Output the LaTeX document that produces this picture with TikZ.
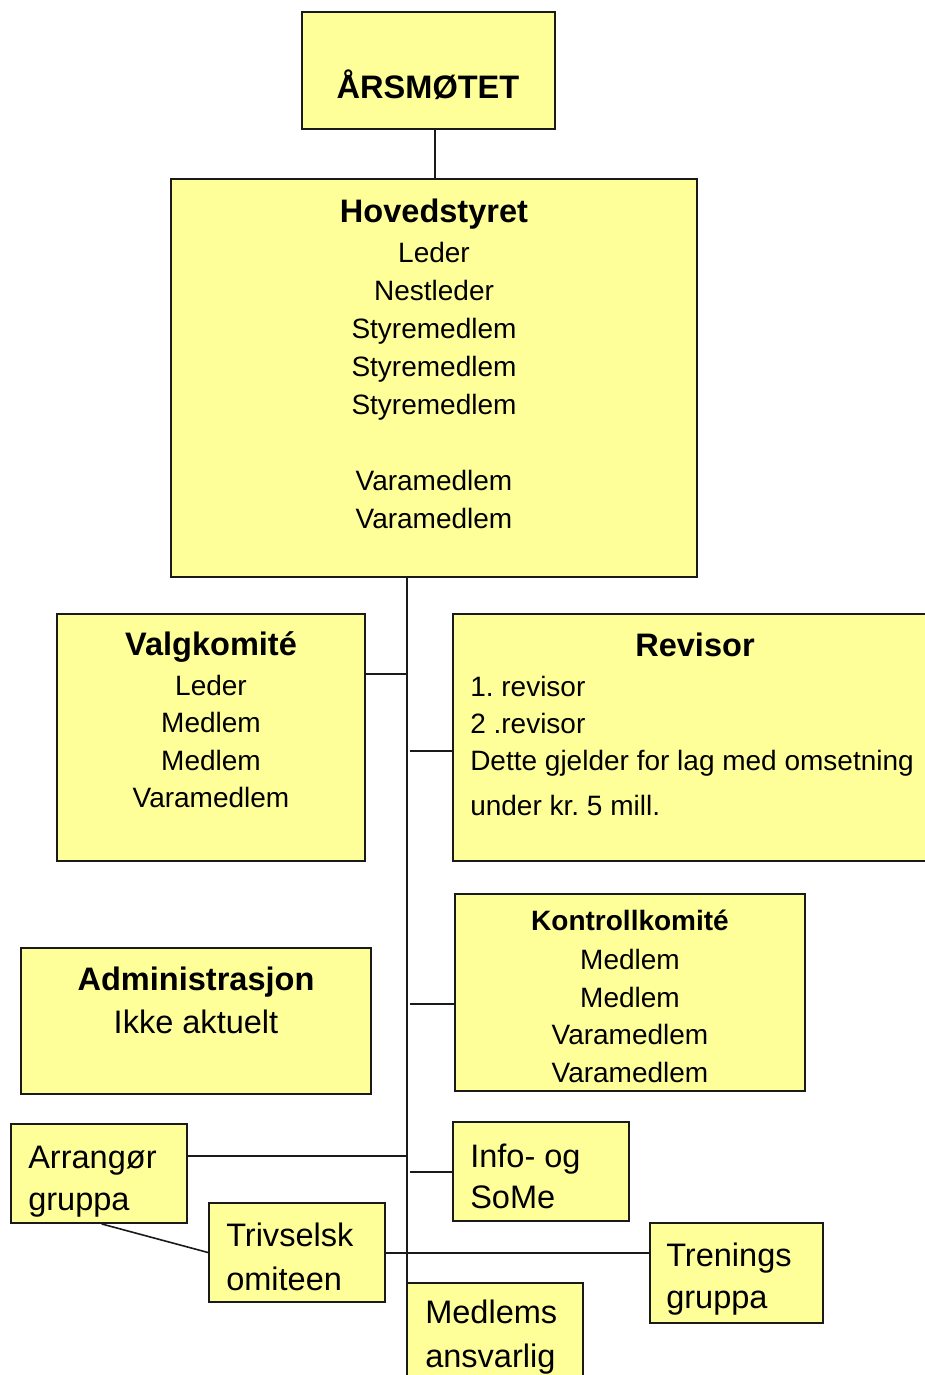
\documentclass[tikz,border=0pt]{standalone}
\usepackage{fontspec}
\setmainfont{Liberation Sans}
\usetikzlibrary{fit,calc}
\definecolor{boxfill}{HTML}{FFFF99}
\definecolor{boxline}{HTML}{1A1A1A}
\frenchspacing
\tikzset{
  box/.style={draw=boxline, fill=boxfill, line width=1.4pt, inner sep=0pt, rectangle},
  conn/.style={draw=boxline, line width=1.5pt},
  sm/.style={inner sep=0pt, anchor=base, font=\fontsize{21}{28}\selectfont},
  smb/.style={inner sep=0pt, anchor=base, font=\fontsize{21}{28}\selectfont\bfseries},
  big/.style={inner sep=0pt, anchor=base, font=\fontsize{24.4}{30}\selectfont},
  bigb/.style={inner sep=0pt, anchor=base, font=\fontsize{24.4}{30}\selectfont\bfseries},
  lft/.style={anchor=base west},
}
\begin{document}
\begin{tikzpicture}[x=0.75pt,y=-0.75pt]
\useasboundingbox (0,0) rectangle (925,1375);
\clip (0,0) rectangle (925,1375);

% boxes
\node[box, fit={(302,12) (555,129)}] (ars) {};
\node[box, fit={(171,179) (697,577)}] (hoved) {};
\node[box, fit={(57,614) (365,861)}] (valg) {};
\node[box, fit={(453,614) (940,861)}] (rev) {};
\node[box, fit={(455,894) (805,1091)}] (kontroll) {};
\node[box, fit={(21,948) (371,1094)}] (admin) {};

% connectors
\draw[conn] ([xshift=4.9pt]ars.south) -- ([xshift=4.9pt]ars.south |- hoved.north);
\coordinate (trunkTop) at (407,577);
\coordinate (trunkBot) at (407,1290);
\draw[conn] (trunkTop) -- (trunkBot);
\coordinate (tValg) at (407,674);
\draw[conn] (tValg) -- (tValg -| valg.east);
\coordinate (tRev) at (410,751);
\draw[conn] (tRev) -- (tRev -| rev.west);
\coordinate (tKon) at (410,1004);
\draw[conn] (tKon) -- (tKon -| kontroll.west);
\coordinate (tArr) at (407,1156);
\coordinate (tInfo) at (410,1172);

\node[box, fit={(11,1124) (187,1223)}] (arr) {};
\node[box, fit={(453,1122) (629,1221)}] (info) {};
\draw[conn] (tArr) -- (tArr -| arr.east);
\draw[conn] (tInfo) -- (tInfo -| info.west);

\node[box, fit={(209,1203) (385,1302)}] (triv) {};
\node[box, fit={(650,1223) (823,1323)}] (tren) {};
\draw[conn] (triv.east) -- (triv.east -| tren.west);
\draw[conn, line width=1.2pt] ([xshift=2pt]arr.south) -- (triv.west);
\node[box, fit={(407,1283) (583,1420)}] (medl) {};

% texts
\node[bigb] (tars) at (428,98) {ÅRSMØTET};

\node[bigb] (th0) at (434,222) {Hovedstyret};
\node[sm] (th1) at (434,262) {Leder};
\node[sm] (th2) at (434,300) {Nestleder};
\node[sm] (th3) at (434,338) {Styremedlem};
\node[sm] (th4) at (434,376) {Styremedlem};
\node[sm] (th5) at (434,414) {Styremedlem};
\node[sm] (th6) at (434,490) {Varamedlem};
\node[sm] (th7) at (434,528) {Varamedlem};

\node[bigb] (tv0) at (211,655) {Valgkomité};
\node[sm] (tv1) at (211,695) {Leder};
\node[sm] (tv2) at (211,732) {Medlem};
\node[sm] (tv3) at (211,770) {Medlem};
\node[sm] (tv4) at (211,807) {Varamedlem};

\node[bigb] (tr0) at (695,656) {Revisor};
\node[sm,lft] (tr1) at (470,696) {1. revisor};
\node[sm,lft] (tr2) at (470,733) {2 .revisor};
\node[sm,lft] (tr3) at (470,770) {Dette gjelder for lag med omsetning};
\node[sm,lft] (tr4) at (470,815) {under kr. 5 mill.};

\node[smb] (tk0) at (630,930) {Kontrollkomité};
\node[sm] (tk1) at (630,969) {Medlem};
\node[sm] (tk2) at (630,1007) {Medlem};
\node[sm] (tk3) at (630,1044) {Varamedlem};
\node[sm] (tk4) at (630,1082) {Varamedlem};

\node[bigb] (ta0) at (196,990) {Administrasjon};
\node[big] (ta1) at (196,1033) {Ikke aktuelt};

\node[big,lft] (tar1) at (28,1168) {Arrangør};
\node[big,lft] (tar2) at (28,1210) {gruppa};
\node[big,lft] (ti1) at (470,1167) {Info- og};
\node[big,lft] (ti2) at (470,1208) {SoMe};
\node[big,lft] (tt1) at (226,1246) {Trivselsk};
\node[big,lft] (tt2) at (226,1290) {omiteen};
\node[big,lft] (ttr1) at (666,1266) {Trenings};
\node[big,lft] (ttr2) at (666,1308) {gruppa};
\node[big,lft] (tm1) at (425,1323) {Medlems};
\node[big,lft] (tm2) at (425,1367) {ansvarlig};
\end{tikzpicture}
\end{document}
